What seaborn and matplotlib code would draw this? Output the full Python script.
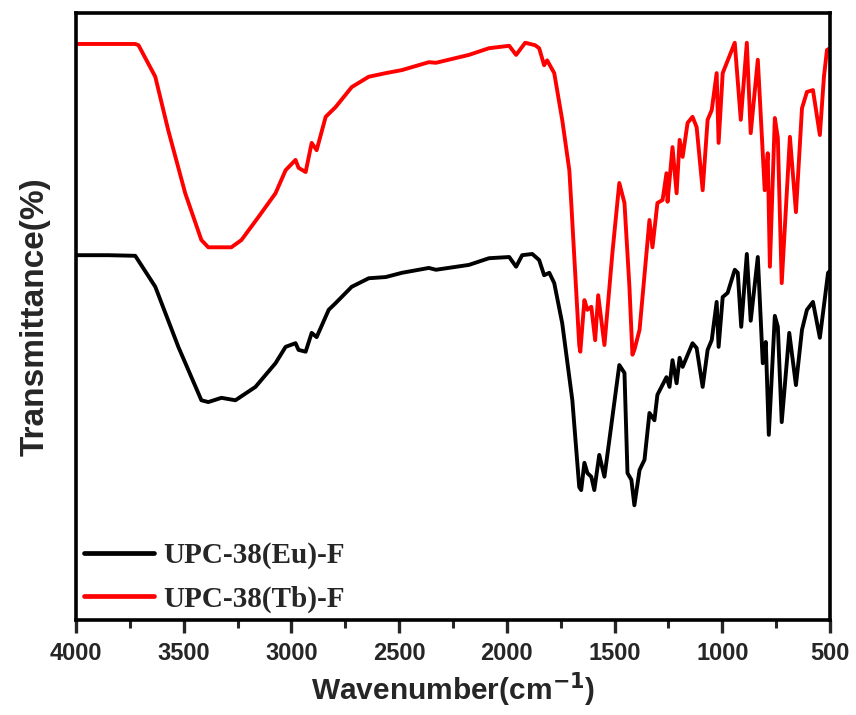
import matplotlib
matplotlib.use("Agg")
import matplotlib.pyplot as plt
from matplotlib.ticker import MultipleLocator
import seaborn as sns
import pandas as pd

# FT-IR spectra (wavenumber in cm^-1, transmittance in arbitrary %)
eu_wavenumber = [4000, 3850, 3725, 3632, 3525, 3418, 3386, 3325, 3260, 3167, 3074, 3027,
                 2981, 2967, 2934, 2906, 2883, 2827, 2795, 2720, 2641, 2562, 2487, 2362,
                 2329, 2176, 2083, 1989, 1957, 1929, 1882, 1850, 1827, 1803, 1780, 1743,
                 1696, 1664, 1655, 1640, 1626, 1608, 1594, 1571, 1547, 1524, 1478, 1454,
                 1440, 1422, 1408, 1384, 1361, 1338, 1315, 1301, 1259, 1245, 1231, 1212,
                 1198, 1184, 1138, 1119, 1091, 1068, 1049, 1026, 1017, 998, 975, 942,
                 928, 912, 886, 868, 835, 812, 798, 784, 756, 742, 724, 689, 658, 630,
                 607, 579, 547, 523, 509, 500]
eu_transmittance = [60.1, 60.1, 60.0, 54.9, 45.0, 36.2, 35.9, 36.6, 36.2, 38.4, 42.3, 45.0,
                    45.6, 44.5, 44.2, 47.3, 46.6, 51.1, 52.2, 54.9, 56.3, 56.5, 57.2, 58.0,
                    57.7, 58.5, 59.6, 59.8, 58.2, 60.1, 60.3, 59.3, 56.8, 57.2, 55.5, 48.9,
                    36.2, 21.9, 21.4, 25.9, 24.2, 23.6, 21.4, 27.2, 23.6, 29.7, 42.0, 40.7,
                    24.2, 23.1, 18.9, 24.7, 26.4, 34.1, 32.9, 37.1, 40.0, 38.4, 42.8, 39.0,
                    43.2, 41.7, 45.6, 44.8, 38.4, 44.5, 46.1, 52.4, 45.0, 53.2, 53.9, 57.7,
                    57.2, 48.3, 60.3, 49.3, 59.8, 42.3, 45.8, 30.5, 50.1, 48.3, 32.6, 47.3,
                    38.7, 47.8, 51.1, 52.4, 46.5, 53.2, 57.2, 57.5]

tb_wavenumber = [4000, 3850, 3725, 3710, 3632, 3572, 3493, 3418, 3386, 3279, 3232, 3153,
                 3074, 3027, 2981, 2967, 2934, 2906, 2883, 2841, 2795, 2720, 2641, 2562,
                 2487, 2362, 2329, 2176, 2083, 1989, 1957, 1915, 1869, 1850, 1827, 1813,
                 1780, 1743, 1710, 1701, 1664, 1659, 1640, 1626, 1608, 1590, 1576, 1547,
                 1510, 1478, 1454, 1431, 1417, 1408, 1384, 1338, 1324, 1301, 1277, 1259,
                 1254, 1231, 1212, 1198, 1184, 1161, 1138, 1119, 1091, 1068, 1049, 1026,
                 1017, 998, 979, 942, 914, 886, 868, 835, 803, 789, 779, 756, 742, 724,
                 686, 658, 630, 607, 579, 547, 528, 514, 500]
tb_transmittance = [94.9, 94.9, 94.9, 94.7, 89.5, 80.7, 70.3, 62.6, 61.4, 61.4, 62.6, 66.4,
                    70.3, 74.1, 75.8, 74.5, 73.8, 78.6, 77.4, 82.9, 84.5, 87.8, 89.5, 90.1,
                    90.6, 91.9, 91.8, 93.1, 94.2, 94.6, 93.1, 95.1, 94.7, 94.2, 91.4, 92.2,
                    90.1, 82.4, 74.1, 68.7, 45.3, 44.2, 52.7, 51.1, 51.6, 46.1, 53.5, 45.3,
                    60.5, 72.0, 68.7, 54.9, 43.7, 44.5, 47.8, 65.9, 61.4, 68.7, 69.2, 73.6,
                    68.9, 77.9, 70.3, 79.1, 76.3, 81.9, 82.9, 81.2, 70.8, 82.4, 84.0, 90.1,
                    78.6, 90.1, 91.8, 95.1, 82.4, 95.1, 80.2, 92.3, 70.8, 76.9, 58.2, 82.7,
                    79.4, 55.5, 79.6, 67.2, 84.3, 87.0, 87.3, 79.9, 89.5, 93.9, 94.2]

series_labels = ["UPC-38(Eu)-F", "UPC-38(Tb)-F"]
series_colors = ["#000000", "#ff0000"]
x_ticks = [4000, 3500, 3000, 2500, 2000, 1500, 1000, 500]

df = pd.concat([
    pd.DataFrame({"Wavenumber": eu_wavenumber, "T": eu_transmittance, "Sample": series_labels[0]}),
    pd.DataFrame({"Wavenumber": tb_wavenumber, "T": tb_transmittance, "Sample": series_labels[1]}),
])

sns.set_style("ticks")
plt.rcParams["font.family"] = ["Liberation Sans", "DejaVu Sans"]

fig = plt.figure(figsize=(8.56, 7.15), dpi=100)
ax = fig.add_axes([0.0888, 0.1329, 0.8808, 0.8489])

sns.lineplot(data=df, x="Wavenumber", y="T", hue="Sample", palette=series_colors,
             sort=False, estimator=None, linewidth=2.8, ax=ax)

ax.set_xlim(4000, 500)
ax.set_ylim(0, 100)
ax.set_xticks(x_ticks)
ax.set_xticklabels([str(t) for t in x_ticks], fontsize=17, fontweight="bold")
ax.xaxis.set_minor_locator(MultipleLocator(250))
ax.tick_params(axis="x", which="major", direction="out", length=9, width=2.4, pad=7)
ax.tick_params(axis="x", which="minor", direction="out", length=5.5, width=2.2)
ax.set_yticks([])

for side in ["left", "right", "top", "bottom"]:
    ax.spines[side].set_visible(True)
    ax.spines[side].set_linewidth(2.6)
    ax.spines[side].set_color("black")

ax.set_xlabel("Wavenumber(cm$^{\\mathbf{-1}}$)", fontsize=21.5, fontweight="bold", labelpad=4)
ax.set_ylabel("Transmittance(%)", fontsize=24, fontweight="bold", labelpad=18)

leg = ax.legend(loc="upper left", bbox_to_anchor=(-0.024, 0.172), frameon=False,
                handlelength=2.4, handletextpad=0.3, labelspacing=0.55,
                prop={"family": ["Liberation Serif", "DejaVu Serif"], "weight": "bold", "size": 21})
for line in leg.get_lines():
    line.set_linewidth(3.4)

fig.savefig("out.png", dpi=100)
